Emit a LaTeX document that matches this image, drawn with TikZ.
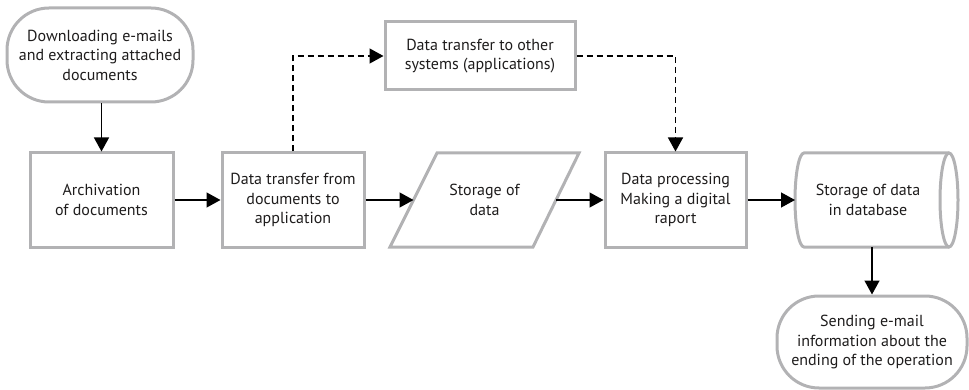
\documentclass[tikz,border=0pt]{standalone}
\usepackage{fontspec}
\setmainfont{PT Sans}
\usetikzlibrary{arrows.meta}
\definecolor{boxgray}{RGB}{178,178,180}
\definecolor{txt}{RGB}{30,28,28}
\begin{document}
\begin{tikzpicture}[x=1pt,y=-1pt,
  every node/.style={font=\fontsize{16}{19.5}\selectfont, text=txt, align=center},
  procbox/.style={draw=boxgray, line width=3pt, minimum height=94pt, inner sep=2pt},
  termbox/.style={procbox, rounded corners=42pt},
  flow/.style={line width=1.4pt, draw=black, -{Triangle[length=14pt,width=15pt]}},
  dflow/.style={flow, dash pattern=on 6pt off 4pt},
  shapeline/.style={draw=boxgray, line width=3pt}]
\useasboundingbox (0,0) rectangle (969,390);

\node[termbox, minimum width=186pt] (start) at (100,55) {Downloading e-mails\\and extracting attached\\documents};
\node[procbox, minimum width=143pt] (arch) at (101.5,200) {Archivation\\of documents};
\node[procbox, minimum width=142pt] (dt) at (293,200) {Data transfer from\\documents to\\application};
\draw[shapeline] (437,153) -- (579,153) -- (533,247) -- (390,247) -- cycle;
\node (par) at (484.5,200) {Storage of\\data};
\coordinate (parL) at (413.5,200);
\coordinate (parR) at (556,200);
\node[procbox, minimum width=141pt] (proc) at (675.5,200) {Data processing\\Making a digital\\raport};
\draw[shapeline] (949,153) -- (804,153) arc[start angle=270, end angle=90, x radius=9, y radius=47] -- (949,247);
\draw[shapeline] (949,200) ellipse[x radius=9, y radius=47];
\node (cyl) at (868,200) {Storage of data\\in database};
\coordinate (cylW) at (795,200);
\coordinate (cylS) at (872,247);
\node[procbox, minimum width=190pt, minimum height=68pt] (top) at (480,56) {Data transfer to other\\systems (applications)};
\node[termbox, minimum width=190pt, minimum height=92pt] (end) at (872,342) {Sending e-mail\\information about the\\ending of the operation};

\draw[flow] (arch.north |- start.south) -- (arch.north);
\draw[flow] (arch) -- (dt);
\draw[flow] (dt) -- (parL);
\draw[flow] (parR) -- (proc);
\draw[flow] (proc) -- (cylW);
\draw[flow] (cylS) -- (end);
\draw[dflow] (dt.north) |- (top.west);
\draw[dflow] (top.east) -| (proc.north);
\end{tikzpicture}
\end{document}
